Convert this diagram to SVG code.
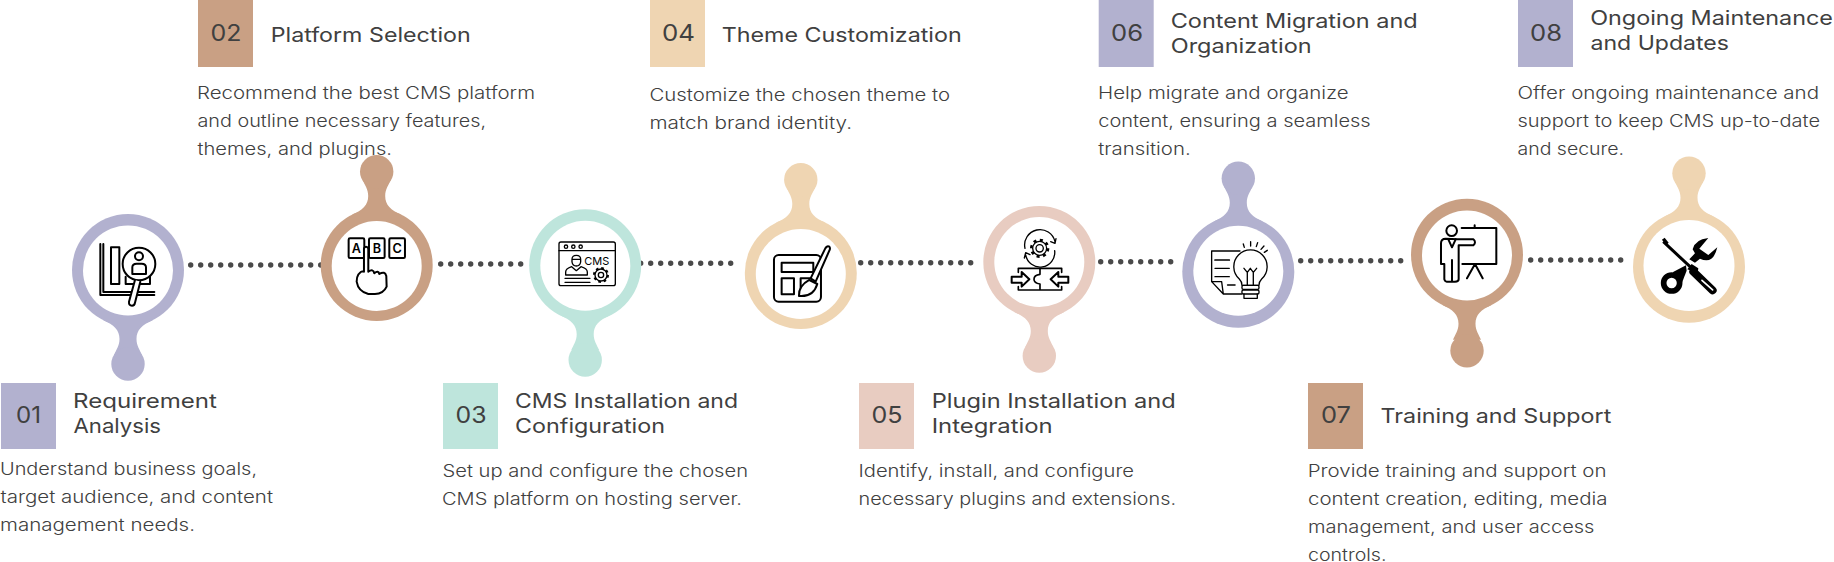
<svg xmlns="http://www.w3.org/2000/svg" width="1834" height="562" viewBox="0 0 1834 562">
<style>
text{font-family:"Inter","Liberation Sans",sans-serif;fill:#404040}
.t{font-size:20px;font-weight:400}
.d{font-size:17px;font-weight:300;fill:#404040}
.n{font-size:23px;font-weight:400;text-anchor:middle}
.dots{fill:none;stroke:#4a4a4a;stroke-width:5.4;stroke-linecap:round;stroke-dasharray:0 10}
.lav{fill:#b2b1cf}.tan{fill:#c9a084}.min{fill:#bee5dc}.san{fill:#efd5b2}.blu{fill:#e8ccc1}
.ic{fill:none;stroke:#000;stroke-width:6;stroke-linecap:round;stroke-linejoin:round}
.iw{fill:#fff;stroke:#000;stroke-width:6;stroke-linecap:round;stroke-linejoin:round}
.it{font-weight:600;fill:#000;stroke:none}
</style>
<defs>
<path id="neck" d="M-25,50 C-14,55 -8.5,60 -8.5,69 C-8.5,76 -12,80 -14,85 L14,85 C12,80 8.5,76 8.5,69 C8.5,60 14,55 25,50 Z"/>
</defs>
<g id="connectors">
<path class="dots" d="M190.7,265H320.7"/>
<path class="dots" d="M440.7,264H530.7"/>
<path class="dots" d="M640.7,263.3H740.7"/>
<path class="dots" d="M860.7,262.7H980.7"/>
<path class="dots" d="M1100.7,261.7H1180.7"/>
<path class="dots" d="M1300.7,260.7H1410.7"/>
<path class="dots" d="M1530.7,260H1630.7"/>
</g>

<g id="node-01">
<rect class="lav" x="1" y="383" width="55" height="66"/>
<text class="n" x="28.6" y="422.7" textLength="25" lengthAdjust="spacingAndGlyphs">01</text>
<text class="t" x="73" y="408" textLength="144" lengthAdjust="spacingAndGlyphs">Requirement</text>
<text class="t" x="73.5" y="433" textLength="87.5" lengthAdjust="spacingAndGlyphs">Analysis</text>
<text class="d" x="0" y="475" textLength="257" lengthAdjust="spacingAndGlyphs">Understand business goals,</text>
<text class="d" x="0.5" y="503" textLength="272.5" lengthAdjust="spacingAndGlyphs">target audience, and content</text>
<text class="d" x="0" y="531" textLength="195" lengthAdjust="spacingAndGlyphs">management needs.</text>
<g class="lav"><circle cx="128" cy="270" r="56"/><use href="#neck" transform="translate(128,270)"/><circle cx="128" cy="364" r="16.7"/></g>
<circle cx="128" cy="270.4" r="45" fill="#fff"/>
<g transform="translate(40,140) scale(.3333)">
<path class="ic" d="M181,312 V465 H343 M190,312 V456 H343"/>
<rect class="ic" x="213" y="322" width="25" height="110"/>
<path class="ic" d="M257,410 V432 H330 V410"/>
<circle class="iw" cx="297" cy="372" r="49"/>
<circle class="ic" cx="297" cy="349" r="12"/>
<path class="ic" d="M277,402 V382 Q277,371 290,371 H305 Q318,371 318,382 V402 Z"/>
<path class="iw" d="M285,420 L267,485 Q266,497 276,497 Q284,497 285,488 L301,425"/>
</g>
</g>

<g id="node-02">
<rect class="tan" x="198" y="0" width="55" height="67"/>
<text class="n" x="226" y="41.3" textLength="31" lengthAdjust="spacingAndGlyphs">02</text>
<text class="t" x="270.7" y="42.3" textLength="200" lengthAdjust="spacingAndGlyphs">Platform Selection</text>
<text class="d" x="197" y="99" textLength="338" lengthAdjust="spacingAndGlyphs">Recommend the best CMS platform</text>
<text class="d" x="197.5" y="127" textLength="288.5" lengthAdjust="spacingAndGlyphs">and outline necessary features,</text>
<text class="d" x="197.5" y="155" textLength="194.5" lengthAdjust="spacingAndGlyphs">themes, and plugins.</text>
<g class="tan"><circle cx="376.7" cy="265" r="56"/><use href="#neck" transform="translate(376.7,265) scale(1,-1)"/><circle cx="376.7" cy="171.7" r="16.7"/></g>
<circle cx="376.7" cy="266" r="45" fill="#fff"/>
<g transform="translate(40,140) scale(.3333)">
<rect class="ic" x="926" y="295" width="47" height="59" rx="4"/>
<rect class="ic" x="987" y="295" width="47" height="59" rx="4"/>
<rect class="ic" x="1048" y="295" width="47" height="59" rx="4"/>
<text class="it" x="949.5" y="340" font-size="38" text-anchor="middle">A</text>
<text class="it" x="1010.5" y="340" font-size="38" text-anchor="middle">B</text>
<text class="it" x="1071.5" y="340" font-size="38" text-anchor="middle">C</text>
<path class="iw" d="M972,395 V325 Q978,315 985,325 V395 Q1000,385 1003,400 Q1015,390 1018,402 Q1035,392 1039,408 L1040,440 Q1030,462 1005,462 H985 Q955,455 950,425 Q950,398 972,392"/>
</g>
</g>

<g id="node-03">
<rect class="min" x="443" y="383" width="55" height="66"/>
<text class="n" x="471" y="422.7" textLength="31" lengthAdjust="spacingAndGlyphs">03</text>
<text class="t" x="515" y="408" textLength="223" lengthAdjust="spacingAndGlyphs">CMS Installation and</text>
<text class="t" x="515" y="433" textLength="150" lengthAdjust="spacingAndGlyphs">Configuration</text>
<text class="d" x="442.5" y="477.3" textLength="305.5" lengthAdjust="spacingAndGlyphs">Set up and configure the chosen</text>
<text class="d" x="442" y="505.3" textLength="300" lengthAdjust="spacingAndGlyphs">CMS platform on hosting server.</text>
<g class="min"><circle cx="585.2" cy="265.3" r="56"/><use href="#neck" transform="translate(585.2,265.3)"/><circle cx="585.2" cy="360" r="16.7"/></g>
<circle cx="585.3" cy="265.8" r="45" fill="#fff"/>
<g transform="translate(500,140) scale(.3333)">
<rect class="ic" style="stroke-width:4" x="177" y="306" width="169" height="131" rx="6"/>
<path class="ic" style="stroke-width:4" d="M177,332 H346 M195,415 H270 M195,427 H270"/>
<g class="ic" style="stroke-width:4"><circle cx="198" cy="320" r="5"/><circle cx="220" cy="320" r="5"/><circle cx="242" cy="320" r="5"/>
<path d="M216,358 V366 Q218,378 229,378 Q240,378 242,366 V358 Q242,346 229,346 Q216,346 216,358 Z M216,358 H242"/>
<path d="M197,405 V396 Q197,386 215,380 L229,392 L243,380 Q262,386 262,396 V405 Z"/>
<circle cx="303" cy="405" r="8"/><circle cx="303" cy="405" r="18"/></g>
<circle cx="303" cy="405" r="21" fill="none" stroke="#000" stroke-width="6" stroke-dasharray="8 8.5"/>
<text class="it" style="font-weight:400" x="253" y="375" font-size="33" textLength="75" lengthAdjust="spacingAndGlyphs">CMS</text>
</g>
</g>

<g id="node-04">
<rect class="san" x="650" y="0" width="55" height="67"/>
<text class="n" x="678.5" y="41.3" textLength="33" lengthAdjust="spacingAndGlyphs">04</text>
<text class="t" x="721.7" y="42.3" textLength="240" lengthAdjust="spacingAndGlyphs">Theme Customization</text>
<text class="d" x="649.5" y="101.3" textLength="300.5" lengthAdjust="spacingAndGlyphs">Customize the chosen theme to</text>
<text class="d" x="649.5" y="129.3" textLength="202.5" lengthAdjust="spacingAndGlyphs">match brand identity.</text>
<g class="san"><circle cx="800.8" cy="273" r="56"/><use href="#neck" transform="translate(800.8,273) scale(1,-1)"/><circle cx="800.8" cy="179.7" r="16.7"/></g>
<circle cx="800.8" cy="274" r="45" fill="#fff"/>
<g transform="translate(500,140) scale(.3333)">
<rect class="ic" x="822" y="345" width="141" height="140" rx="14"/>
<rect class="ic" x="845" y="368" width="95" height="28"/>
<rect class="ic" x="845" y="415" width="37" height="48"/>
<path class="ic" d="M902,462 V415 H937"/>
<path class="iw" d="M932,415 L976,325 Q982,316 988,320 Q992,325 988,332 L947,425 Z"/>
<path class="iw" d="M928,420 Q895,438 897,468 Q940,472 952,432 Z"/>
</g>
</g>

<g id="node-05">
<rect class="blu" x="859" y="383" width="55" height="66"/>
<text class="n" x="887" y="422.7" textLength="31" lengthAdjust="spacingAndGlyphs">05</text>
<text class="t" x="931.7" y="408" textLength="244" lengthAdjust="spacingAndGlyphs">Plugin Installation and</text>
<text class="t" x="931.7" y="433" textLength="121" lengthAdjust="spacingAndGlyphs">Integration</text>
<text class="d" x="858.5" y="477.3" textLength="275.5" lengthAdjust="spacingAndGlyphs">Identify, install, and configure</text>
<text class="d" x="858.5" y="505.3" textLength="317.5" lengthAdjust="spacingAndGlyphs">necessary plugins and extensions.</text>
<g class="blu"><circle cx="1039.3" cy="262" r="56"/><use href="#neck" transform="translate(1039.3,262)"/><circle cx="1039.3" cy="356" r="16.7"/></g>
<circle cx="1039.3" cy="262" r="45" fill="#fff"/>
<g transform="translate(960,140) scale(.3333)">
<circle class="ic" style="stroke-width:4" cx="239" cy="325" r="11"/>
<circle class="ic" style="stroke-width:4" cx="239" cy="325" r="21"/>
<circle cx="239" cy="325" r="25" fill="none" stroke="#000" stroke-width="8" stroke-dasharray="9 10.6"/>
<path class="ic" style="stroke-width:4" d="M195,325 A44,44 0 0 1 285,305 M288,296 L285,310 L272,305 M284,332 A44,44 0 0 1 197,345 M193,354 L197,338 L210,344"/>
<path class="ic" style="stroke-width:5" d="M175,397 V385 H305 V397 M175,440 V450 H305 V440 M240,385 V403 Q222,405 222,418 Q222,430 240,432 V450"/>
<path class="ic" d="M155,410 H185 V396 L208,418 L185,440 V428 H155 Z M325,410 H295 V396 L272,418 L295,440 V428 H325 Z"/>
</g>
</g>

<g id="node-06">
<rect class="lav" x="1098.7" y="0" width="55" height="67"/>
<text class="n" x="1127" y="40.7" textLength="32" lengthAdjust="spacingAndGlyphs">06</text>
<text class="t" x="1170.7" y="27.7" textLength="247" lengthAdjust="spacingAndGlyphs">Content Migration and</text>
<text class="t" x="1170.7" y="52.7" textLength="141" lengthAdjust="spacingAndGlyphs">Organization</text>
<text class="d" x="1098" y="99" textLength="250.7" lengthAdjust="spacingAndGlyphs">Help migrate and organize</text>
<text class="d" x="1098.2" y="127" textLength="272.5" lengthAdjust="spacingAndGlyphs">content, ensuring a seamless</text>
<text class="d" x="1098.2" y="155" textLength="92.5" lengthAdjust="spacingAndGlyphs">transition.</text>
<g class="lav"><circle cx="1238.3" cy="271.7" r="56"/><use href="#neck" transform="translate(1238.3,271.7) scale(1,-1)"/><circle cx="1238.3" cy="178.3" r="16.7"/></g>
<circle cx="1238.3" cy="270.8" r="45" fill="#fff"/>
<g transform="translate(960,140) scale(.3333)">
<g class="ic" style="stroke-width:4">
<path d="M840,333 H755 V425 L790,462 H845 M755,425 H785 L790,462"/>
<path d="M765,385 H808 M765,410 H808"/>
<path d="M765,360 H808 M803,435 H825" stroke-width="5"/>
<path class="iw" style="stroke-width:4" d="M846,436 Q846,425 838,417 A50,50 0 1 1 905,417 Q897,425 897,436 Z"/>
<path d="M852,385 L862,397 L871,385 L880,397 L890,385 M862,397 V436 M880,397 V436"/>
<rect x="846" y="436" width="51" height="12" rx="4"/>
<rect x="846" y="450" width="51" height="12" rx="4"/>
<path d="M852,462 V475 H892 V462"/>
<path d="M850,312 L853,322 M872,305 V318 M893,308 L889,320 M912,318 L903,328 M922,331 L913,337"/>
</g>
</g>
</g>

<g id="node-07">
<rect class="tan" x="1308" y="383" width="55" height="66"/>
<text class="n" x="1336" y="422.7" textLength="30" lengthAdjust="spacingAndGlyphs">07</text>
<text class="t" x="1380.6" y="423.3" textLength="230.7" lengthAdjust="spacingAndGlyphs">Training and Support</text>
<text class="d" x="1307.7" y="477.3" textLength="298.8" lengthAdjust="spacingAndGlyphs">Provide training and support on</text>
<text class="d" x="1308" y="505.3" textLength="299.5" lengthAdjust="spacingAndGlyphs">content creation, editing, media</text>
<text class="d" x="1308" y="533" textLength="286.5" lengthAdjust="spacingAndGlyphs">management, and user access</text>
<text class="d" x="1308" y="561" textLength="78.5" lengthAdjust="spacingAndGlyphs">controls.</text>
<g class="tan"><circle cx="1467" cy="254.7" r="56"/><use href="#neck" transform="translate(1467,254.7)"/><circle cx="1467" cy="350.7" r="16.7"/></g>
<circle cx="1467" cy="255.5" r="45" fill="#fff"/>
<g transform="translate(1380,140) scale(.3333)">
<circle class="ic" cx="215" cy="272" r="16"/>
<path class="ic" d="M245,264 H349 V372 H247 M284,256 V264 M285,372 L261,415 M285,372 L308,415"/>
<path class="iw" d="M233,298 H280 Q290,306 280,316 H236 V418 Q236,425 225,425 H200 Q195,425 193,418 V372 H183 V310 Q183,296 197,296 Z"/>
<path class="ic" d="M216,360 V422 M205,298 L216,322 L227,298"/>
</g>
</g>

<g id="node-08">
<rect class="lav" x="1518" y="0" width="55" height="67"/>
<text class="n" x="1546" y="40.7" textLength="32" lengthAdjust="spacingAndGlyphs">08</text>
<text class="t" x="1590.2" y="25" textLength="242.8" lengthAdjust="spacingAndGlyphs">Ongoing Maintenance</text>
<text class="t" x="1590.5" y="50" textLength="138.5" lengthAdjust="spacingAndGlyphs">and Updates</text>
<text class="d" x="1517.5" y="99" textLength="301.5" lengthAdjust="spacingAndGlyphs">Offer ongoing maintenance and</text>
<text class="d" x="1517.5" y="127" textLength="302.5" lengthAdjust="spacingAndGlyphs">support to keep CMS up-to-date</text>
<text class="d" x="1517.5" y="155" textLength="106.5" lengthAdjust="spacingAndGlyphs">and secure.</text>
<g class="san"><circle cx="1689" cy="266.7" r="56"/><use href="#neck" transform="translate(1689,266.7) scale(1,-1)"/><circle cx="1689" cy="173.3" r="16.7"/></g>
<circle cx="1689" cy="265.5" r="45.5" fill="#fff"/>
<g transform="translate(1380,140) scale(.3333)">
<path d="M985,294 Q945,298 938,328 L945,340 L928,358 L945,368 L960,356 Q1000,375 1012,322 L985,345 L958,326 Z"/>
<circle cx="875" cy="429" r="24" fill="none" stroke="#000" stroke-width="17"/>
<path d="M878,397 L918,376 L920,392 L906,428 Z"/>
<path d="M850,305 L943,392" fill="none" stroke="#000" stroke-width="9"/>
<path d="M846,299 L854,293 L866,308 L858,316 Z"/>
<path d="M922,388 L935,372 L955,385 L953,400 Z"/>
<path d="M940,395 L998,451" fill="none" stroke="#000" stroke-width="24" stroke-linecap="round"/>
<path d="M966,421 L998,450" fill="none" stroke="#fff" stroke-width="5" stroke-linecap="round"/>
</g>
</g>
</svg>
